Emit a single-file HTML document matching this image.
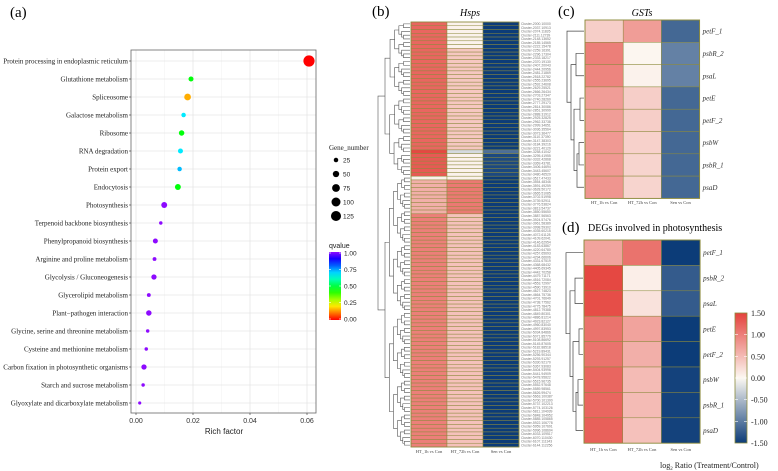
<!DOCTYPE html>
<html><head><meta charset="utf-8"><style>
html,body{margin:0;padding:0;background:#fff;}
svg{display:block;}
.serif{font-family:"Liberation Serif",serif;}
.sans{font-family:"Liberation Sans",sans-serif;}
</style></head><body>
<svg id="fig" width="778" height="471" viewBox="0 0 778 471" xmlns="http://www.w3.org/2000/svg">
<g id="pa"></g>
<g id="pb"></g>
<g id="pc"></g>
<g id="pd"></g>
</svg>
<script>
// ---------- Panel (a) data ----------
const pathways = ["Protein processing in endoplasmic reticulum","Glutathione metabolism","Spliceosome","Galactose metabolism","Ribosome","RNA degradation","Protein export","Endocytosis","Photosynthesis","Terpenoid backbone biosynthesis","Phenylpropanoid biosynthesis","Arginine and proline metabolism","Glycolysis / Gluconeogenesis","Glycerolipid metabolism","Plant\u2212pathogen interaction","Glycine, serine and threonine metabolism","Cysteine and methionine metabolism","Carbon fixation in photosynthetic organisms","Starch and sucrose metabolism","Glyoxylate and dicarboxylate metabolism"];
const richFactor = [0.0607,0.0193,0.0181,0.0167,0.0160,0.0156,0.0153,0.0147,0.0099,0.0087,0.0068,0.0065,0.0063,0.0045,0.0045,0.0041,0.0036,0.0028,0.0025,0.0013];
const geneNumber = [125,25,45,20,30,25,20,35,35,12,25,15,28,15,30,12,12,28,12,10];
const qvalue = [0.0,0.45,0.15,0.68,0.45,0.68,0.72,0.45,1,1,1,1,1,1,1,1,1,1,1,1];
const xTicks = [0,0.02,0.04,0.06];
const xTickLabels = ["0.00","0.02","0.04","0.06"];
const sizeLegend = [25,50,75,100,125];
const qLegend = [1.00,0.75,0.50,0.25,0.00];

// ---------- Panel (b) data ----------
const hspCols = ["HT_1h vs Con","HT_72h vs Con","Sen vs Con"];
const hspBlockSizes = [7,20,7,1,6,1,9,62];
const hspBlockCol1 = [1.2,1.2,1.2,1.45,1.3,0.05,0.6,1.0];
const hspBlockCol2 = [0.05,0.4,0.4,-0.25,0.05,0.05,1.05,0.45];
const hspBlockCol3 = [-1.5,-1.5,-1.5,-1.1,-1.4,-1.5,-1.5,-1.5];

// ---------- Panel (c) data ----------
const genes = ["petF_1","psbR_2","psaL","petE","petF_2","psbW","psbR_1","psaD"];
const cCol1 = [0.35,1.0,0.95,0.75,0.75,0.78,0.78,0.82];
const cCol2 = [0.75,0.02,0.05,0.35,0.35,0.32,0.3,0.3];
const cCol3 = [-1.15,-0.95,-0.95,-1.15,-1.15,-1.15,-1.15,-1.15];

// ---------- Panel (d) data ----------
const dCol1 = [0.7,1.45,1.4,1.1,1.1,1.2,1.2,1.25];
const dCol2 = [1.1,0.08,0.18,0.7,0.6,0.5,0.5,0.45];
const dCol3 = [-1.5,-1.25,-1.25,-1.5,-1.5,-1.45,-1.45,-1.45];
const cbarTicks = [1.5,1.0,0.5,0.0,-0.5,-1.0,-1.5];
const cbarLabels = ["1.50","1.00","0.50","0.00","-0.50","-1.00","-1.50"];

const NS="http://www.w3.org/2000/svg";
function mk(parent,tag,attrs,text){const e=document.createElementNS(NS,tag);for(const k in attrs)e.setAttribute(k,attrs[k]);if(text!==undefined)e.textContent=text;parent.appendChild(e);return e;}

function lerp(a,b,t){return a.map((v,i)=>Math.round(v+(b[i]-v)*t));}
function heatColor(v){
  const neg=[12,60,120], mid=[252,248,242], pos=[228,66,60];
  let c; if(v>=0)c=lerp(mid,pos,Math.min(v/1.5,1)); else c=lerp(mid,neg,Math.min(-v/1.5,1));
  return `rgb(${c[0]},${c[1]},${c[2]})`;
}
function qColor(q){return `hsl(${q*272},100%,${q>0.9?52:50}%)`;}

// ================= Panel A =================
(function(){
  const g=document.getElementById('pa');
  const x0=131,x1=316,y0=50,y1=413;
  const xs=v=>136+v*2850;
  const ys=i=>61+i*18;
  let t=mk(g,'text',{x:10,y:17,'font-size':15,class:'serif'},'(a)');
  
  
  mk(g,'rect',{x:x0,y:y0,width:x1-x0,height:y1-y0,fill:'#fff'});
  // minor grid
  [0.01,0.03,0.05].forEach(v=>mk(g,'line',{x1:xs(v),x2:xs(v),y1:y0,y2:y1,stroke:'#f3f3f3','stroke-width':0.6}));
  xTicks.forEach(v=>mk(g,'line',{x1:xs(v),x2:xs(v),y1:y0,y2:y1,stroke:'#e6e6e6','stroke-width':0.8}));
  pathways.forEach((p,i)=>mk(g,'line',{x1:x0,x2:x1,y1:ys(i),y2:ys(i),stroke:'#e6e6e6','stroke-width':0.8}));
  const frame=mk(g,'rect',{x:x0,y:y0,width:x1-x0,height:y1-y0,fill:'none',stroke:'#666','stroke-width':0.8});
  
  
  pathways.forEach((p,i)=>{
    mk(g,'line',{x1:x0-2,x2:x0,y1:ys(i),y2:ys(i),stroke:'#333','stroke-width':0.6});
    const l=mk(g,'text',{x:x0-3,y:ys(i)+2.3,'font-size':7,'text-anchor':'end',class:'serif',fill:'#222'},p);
    
    
  });
  xTicks.forEach((v,i)=>{
    mk(g,'line',{x1:xs(v),x2:xs(v),y1:y1,y2:y1+2,stroke:'#333','stroke-width':0.6});
    const l=mk(g,'text',{x:xs(v),y:y1+10,'font-size':7,'text-anchor':'middle',class:'sans',fill:'#333'},xTickLabels[i]);
    
    
  });
  const xt=mk(g,'text',{x:224,y:434,'font-size':8,'text-anchor':'middle',class:'sans',fill:'#222'},'Rich factor');
  
  
  pathways.forEach((p,i)=>{
    const c=mk(g,'circle',{cx:xs(richFactor[i]),cy:ys(i),r:0.5*Math.sqrt(geneNumber[i]),fill:qColor(qvalue[i])});
    
    
  });
  // size legend
  const lt=mk(g,'text',{x:329,y:150,'font-size':7,class:'serif',fill:'#222'},'Gene_number');
  
  
  sizeLegend.forEach((n,i)=>{
    const yy=160+i*14;
    const c=mk(g,'circle',{cx:336,cy:yy,r:0.45*Math.sqrt(n),fill:'#000'});
    
    
    mk(g,'text',{x:343,y:yy+2.5,'font-size':6.5,class:'sans',fill:'#222'},String(n));
  });
  // q legend
  const qt=mk(g,'text',{x:329,y:248,'font-size':7,class:'sans',fill:'#222'},'qvalue');
  
  
  const defs=mk(g,'defs',{});
  const lg=mk(defs,'linearGradient',{id:'qg',x1:0,y1:0,x2:0,y2:1});
  for(let k=0;k<=10;k++){mk(lg,'stop',{offset:k/10,'stop-color':qColor(1-k/10)});}
  const cb=mk(g,'rect',{x:329,y:252,width:12,height:68,fill:'url(#qg)'});
  
  
  qLegend.forEach((q,i)=>{
    const yy=253+(1-q)*66;
    mk(g,'line',{x1:329,x2:331,y1:yy,y2:yy,stroke:'#fff','stroke-width':0.6});
    mk(g,'line',{x1:339,x2:341,y1:yy,y2:yy,stroke:'#fff','stroke-width':0.6});
    mk(g,'text',{x:344,y:yy+2.5,'font-size':6.5,class:'sans',fill:'#222'},q.toFixed(2));
  });
})();

// dendrogram helper: draws a tree over leaf centres ys between xLeft..xRight
function dendro(g,ys,xRoot,xLeaf,color){
  function build(lo,hi,depth){
    if(hi-lo===1)return {y:ys[lo],x:xLeaf};
    const mid=Math.floor((lo+hi)/2);
    const a=build(lo,mid,depth+1),b=build(mid,hi,depth+1);
    const span=hi-lo, total=ys.length;
    const x=xLeaf-(xLeaf-xRoot)*Math.pow(Math.log2(span+1)/Math.log2(total+1),1.1);
    mk(g,'path',{d:`M${a.x},${a.y}H${x}V${b.y}H${b.x}`,fill:'none',stroke:color,'stroke-width':0.6});
    return {y:(a.y+b.y)/2,x:x};
  }
  return build(0,ys.length,0);
}

function heatmap(g,cols,x0,colW,y0,rowH,nRows,colLabelY,colFs,nameFn){
  cols.forEach((col,ci)=>{
    for(let r=0;r<nRows;r++){
      const c=mk(g,'rect',{x:x0+ci*colW,y:y0+r*rowH,width:colW,height:rowH,fill:heatColor(col[r]),stroke:'#8c8a3c','stroke-width':0.5});
      
      
    }
  });
}

// ================= Panel B =================
(function(){
  const g=document.getElementById('pb');
  let t=mk(g,'text',{x:372,y:16,'font-size':15,class:'serif'},'(b)');
  
  
  t=mk(g,'text',{x:470,y:16,'font-size':10,'text-anchor':'middle','font-style':'italic',class:'serif'},'Hsps');
  
  
  const c1=[],c2=[],c3=[];
  hspBlockSizes.forEach((n,b)=>{for(let k=0;k<n;k++){c1.push(hspBlockCol1[b]);c2.push(hspBlockCol2[b]);c3.push(hspBlockCol3[b]);}});
  const n=c1.length, y0=22, H=425, rowH=H/n, x0=411, colW=36;
  heatmap(g,[c1,c2,c3],x0,colW,y0,rowH,n,0,0,(r,c)=>'hsp-cell');
  mk(g,'rect',{x:x0,y:y0,width:colW*3,height:H,fill:'none',stroke:'#8c8a3c','stroke-width':0.8});
  const ys=[];for(let r=0;r<n;r++)ys.push(y0+(r+0.5)*rowH);
  const dg=mk(g,'g',{});
  
  
  // split top (41) and bottom groups
  const top=dendro(dg,ys.slice(0,41),385,410,'#555');
  const bot=dendro(dg,ys.slice(41),385,410,'#555');
  mk(dg,'path',{d:`M${top.x},${top.y}H378V${bot.y}H${bot.x}`,fill:'none',stroke:'#555','stroke-width':0.6});
  for(let r=0;r<n;r++){
    const l=mk(g,'text',{x:521,y:ys[r]+1.3,'font-size':3.4,class:'sans',fill:'#777'},'Cluster-'+(2000+r*37)+'.'+(10000+r*913));
    
    
  }
  hspCols.forEach((c,i)=>{
    const l=mk(g,'text',{x:x0+colW*(i+0.5),y:453,'font-size':4.5,'text-anchor':'middle',class:'serif',fill:'#444'},c);
    
    
  });
})();

function smallHeat(g,cols,x0,colW,y0,rowH,labY,prefix){
  heatmap(g,cols,x0,colW,y0,rowH,8,0,0,(r,c)=>prefix+'-cell');
  mk(g,'rect',{x:x0,y:y0,width:colW*3,height:rowH*8,fill:'none',stroke:'#8c8a3c','stroke-width':0.9});
  genes.forEach((gn,r)=>{
    const l=mk(g,'text',{x:x0+colW*3+3,y:y0+(r+0.5)*rowH+2.5,'font-size':7,'font-style':'italic',class:'serif',fill:'#333'},gn);
    
    
  });
  hspCols.forEach((c,i)=>{
    const l=mk(g,'text',{x:x0+colW*(i+0.5),y:labY,'font-size':4.5,'text-anchor':'middle',class:'serif',fill:'#444'},c);
    
    
  });
  const ys=genes.map((_,r)=>y0+(r+0.5)*rowH);
  const dg=mk(g,'g',{});
  
  
  // structure: petF_1 vs rest; rest: (psbR_2,psaL) vs (petE..psaD)
  const L=x0-1;
  const p=(d)=>mk(dg,'path',{d:d,fill:'none',stroke:'#444','stroke-width':0.7});
  p(`M${L},${ys[1]}H${L-8}V${ys[2]}H${L}`);
  p(`M${L},${ys[3]}H${L-4}V${ys[4]}H${L}`);
  p(`M${L},${ys[5]}H${L-5}V${ys[6]}H${L}`);
  const a=(ys[5]+ys[6])/2;
  p(`M${L-5},${a}H${L-7}V${ys[7]}H${L}`);
  const b=(a+ys[7])/2, c=(ys[3]+ys[4])/2;
  p(`M${L-4},${c}H${L-10}V${b}H${L-7}`);
  const d=(c+b)/2, e=(ys[1]+ys[2])/2;
  p(`M${L-8},${e}H${L-13}V${d}H${L-10}`);
  const f=(e+d)/2;
  p(`M${L},${ys[0]}H${L-17}V${f}H${L-13}`);
}

// ================= Panel C =================
(function(){
  const g=document.getElementById('pc');
  let t=mk(g,'text',{x:558,y:16,'font-size':15,class:'serif'},'(c)');
  
  
  t=mk(g,'text',{x:642,y:16,'font-size':10,'text-anchor':'middle','font-style':'italic',class:'serif'},'GSTs');
  
  
  smallHeat(g,[cCol1,cCol2,cCol3],585,38.2,20,22.3,204,'gst');
})();

// ================= Panel D =================
(function(){
  const g=document.getElementById('pd');
  let t=mk(g,'text',{x:562,y:232,'font-size':15,class:'serif'},'(d)');
  
  
  t=mk(g,'text',{x:588,y:231,'font-size':10,class:'serif'},'DEGs involved in photosynthesis');
  
  
  smallHeat(g,[dCol1,dCol2,dCol3],584,38.7,240,25.4,451,'photosynthesis');
  const defs=mk(g,'defs',{});
  const lg=mk(defs,'linearGradient',{id:'hg',x1:0,y1:0,x2:0,y2:1});
  for(let k=0;k<=12;k++){mk(lg,'stop',{offset:k/12,'stop-color':heatColor(1.5-3*k/12)});}
  const cb=mk(g,'rect',{x:735,y:313,width:12,height:130,fill:'url(#hg)',stroke:'#8c8a3c','stroke-width':0.8});
  
  
  cbarTicks.forEach((v,i)=>{
    const yy=313+(1.5-v)/3*130;
    if(i>0&&i<cbarTicks.length-1){
      mk(g,'line',{x1:735,x2:738,y1:yy,y2:yy,stroke:'#fff','stroke-width':0.6});
      mk(g,'line',{x1:744,x2:747,y1:yy,y2:yy,stroke:'#fff','stroke-width':0.6});
    }
    const l=mk(g,'text',{x:751,y:yy+3,'font-size':8,class:'serif',fill:'#222'},cbarLabels[i]);
    
    
  });
  const tt=mk(g,'text',{x:660,y:468,'font-size':8,class:'serif',fill:'#222'});
  
  
  tt.appendChild(document.createTextNode('log'));
  const sub=mk(tt,'tspan',{'font-size':5,dy:2},'2');
  mk(tt,'tspan',{dy:-2},' Ratio (Treatment/Control)');
})();
</script>
</body></html>
